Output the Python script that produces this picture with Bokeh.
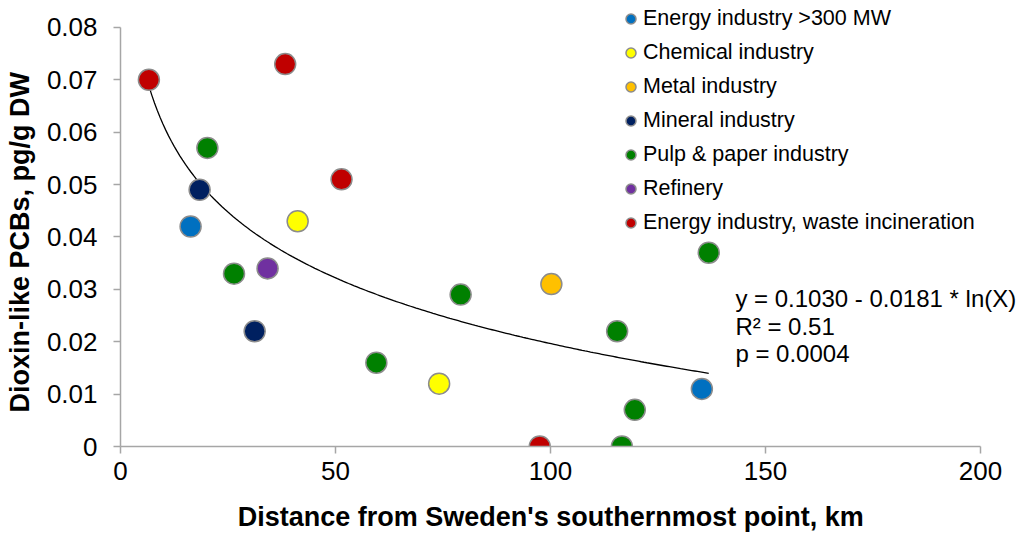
import numpy as np
from bokeh.plotting import figure
from bokeh.models import Range1d, FixedTicker, NumeralTickFormatter, Legend, LegendItem, Label
from bokeh.embed import file_html
from bokeh.resources import INLINE

# Industry sectors (legend order) and their marker colours
sectors = [
    "Energy industry >300 MW",
    "Chemical industry",
    "Metal industry",
    "Mineral industry",
    "Pulp & paper industry",
    "Refinery",
    "Energy industry, waste incineration",
]
sector_colors = ["#0070C0", "#FFFF00", "#FFC000", "#002060", "#008000", "#7030A0", "#C00000"]

# Sampling sites: distance (km), dioxin-like PCBs (pg/g DW), sector
distance_km = [16.3, 135.2,
               41.2, 74.1,
               100.2,
               18.4, 31.2,
               20.2, 26.4, 59.5, 79.1, 115.5, 119.6, 116.6, 136.8,
               34.2,
               6.6, 38.3, 51.4, 97.5]
pcb_pg_g = [0.042, 0.011,
            0.043, 0.012,
            0.031,
            0.049, 0.022,
            0.057, 0.033, 0.016, 0.029, 0.022, 0.007, 0.000, 0.037,
            0.034,
            0.070, 0.073, 0.051, 0.000]
site_sector = (["Energy industry >300 MW"] * 2 + ["Chemical industry"] * 2 + ["Metal industry"]
               + ["Mineral industry"] * 2 + ["Pulp & paper industry"] * 8 + ["Refinery"]
               + ["Energy industry, waste incineration"] * 4)

# Logarithmic regression: y = a - b * ln(x)
fit_a = 0.1030
fit_b = 0.0181
fit_text = ["y = 0.1030 - 0.0181 * ln(X)", "R\u00b2 = 0.51", "p = 0.0004"]

x_title = "Distance from Sweden's southernmost point, km"
y_title = "Dioxin-like PCBs, pg/g DW"
x_ticks = [0, 50, 100, 150, 200]
y_ticks = [0, 0.01, 0.02, 0.03, 0.04, 0.05, 0.06, 0.07, 0.08]
x_max, y_max = 200, 0.08

FONT = "Liberation Sans"
AXIS_GREY = "#A6A6A6"
NBSP = "\u00a0"

# The plotting frame reaches the top and right edges of the canvas so the
# legend and the fit statistics can sit beyond the axes' extent; the axes
# themselves are bounded to 0..200 km and 0..0.08 pg/g.
W, H = 1018, 534
LEFT, BOTTOM, TOP_GAP, RIGHT_GAP = 120, 87, 27, 38
frame_w, frame_h = W - LEFT, H - BOTTOM
x_end = x_max * frame_w / (frame_w - RIGHT_GAP)
y_end = y_max * frame_h / (frame_h - TOP_GAP)

p = figure(width=W, height=H, output_backend="svg", toolbar_location=None,
           x_range=Range1d(0, x_end), y_range=Range1d(0, y_end),
           min_border_left=LEFT, min_border_right=0, min_border_top=0,
           min_border_bottom=BOTTOM)
p.outline_line_color = None
p.xgrid.visible = False
p.ygrid.visible = False
p.background_fill_color = "white"

for ax in (p.xaxis[0], p.yaxis[0]):
    ax.axis_line_color = AXIS_GREY
    ax.axis_line_width = 1.5
    ax.major_tick_line_color = AXIS_GREY
    ax.major_tick_line_width = 1.5
    ax.major_tick_in = 0
    ax.major_tick_out = 7
    ax.minor_tick_line_color = None
    ax.major_label_text_font = FONT
    ax.major_label_text_font_size = "26px"
    ax.major_label_text_color = "black"
    ax.axis_label_text_font = FONT
    ax.axis_label_text_font_size = "27px"
    ax.axis_label_text_font_style = "bold"
    ax.axis_label_text_color = "black"

p.xaxis.bounds = (0, x_max)
p.yaxis.bounds = (0, y_max)
p.xaxis.ticker = FixedTicker(ticks=x_ticks)
p.yaxis.ticker = FixedTicker(ticks=y_ticks)
p.yaxis.formatter = NumeralTickFormatter(format="0.[00]")
p.xaxis.major_label_standoff = 8
p.yaxis.major_label_standoff = 16
p.xaxis.axis_label_standoff = 19
p.yaxis.axis_label_standoff = 9
# Axis titles are centred on the panel, which runs past the bounded axis;
# trailing no-break spaces pull the visible words back over the axis line.
p.xaxis.axis_label = x_title + NBSP * 5
p.yaxis.axis_label = y_title + NBSP * 5

# Regression curve over the observed distance range
xs = np.linspace(min(distance_km), max(distance_km), 200)
p.line(xs, fit_a - fit_b * np.log(xs), line_color="black", line_width=1.3)

# Points per sector
items = []
for name, color in zip(sectors, sector_colors):
    sx = [d for d, s in zip(distance_km, site_sector) if s == name]
    sy = [v for v, s in zip(pcb_pg_g, site_sector) if s == name]
    r = p.scatter(sx, sy, size=21, fill_color=color, line_color="#8C8C8C", line_width=1.5)
    items.append(LegendItem(label=name, renderers=[r]))

legend = Legend(items=items, location=(498, 211), orientation="vertical",
                padding=0, margin=0, spacing=9, glyph_width=25, glyph_height=25,
                label_height=25, label_standoff=0,
                label_text_font=FONT, label_text_font_size="21.5px",
                label_text_color="black",
                border_line_color=None, background_fill_alpha=0)
p.add_layout(legend, "center")

# Regression statistics
for i, t in enumerate(fit_text):
    p.add_layout(Label(x=143, y=0.0282 - i * 0.0052, text=t, text_font=FONT,
                       text_font_size="24px", text_color="black",
                       text_baseline="alphabetic"))

open("out.html", "w").write(file_html(p, INLINE))
